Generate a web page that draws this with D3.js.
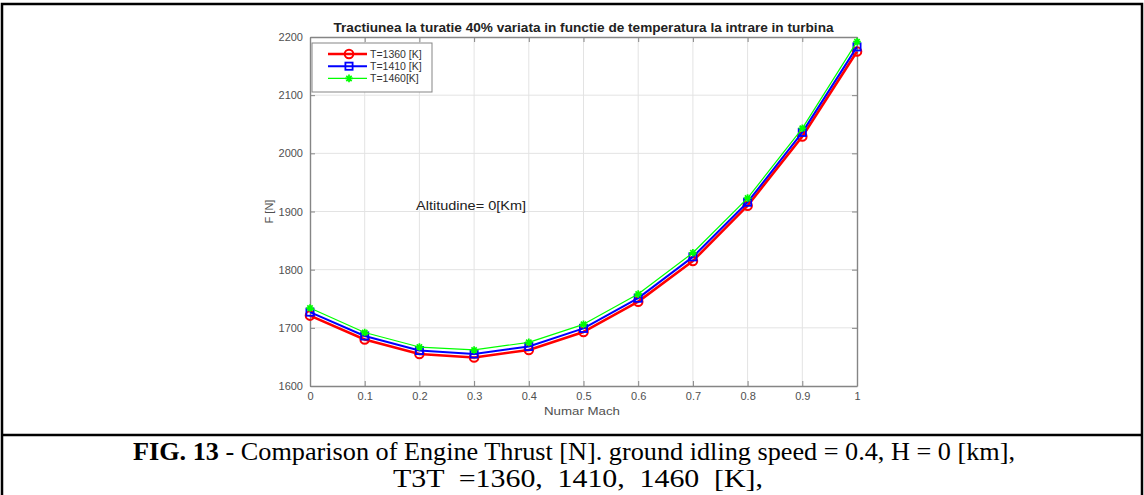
<!DOCTYPE html>
<head>
    <script src="https://cdn.jsdelivr.net/npm/d3@7"></script>
    <style>
        body { margin: 0; background: #fff; }
        svg { display: block; }
        .tick text { font-family: "Liberation Sans", Arial, sans-serif; }
    </style>
</head>
<html>
<body>
<svg width="1144" height="495"></svg>
<script>
    // data
    const mach = [0, 0.1, 0.2, 0.3, 0.4, 0.5, 0.6, 0.7, 0.8, 0.9, 1];
    const t1360 = [1721, 1680, 1655, 1649, 1662, 1693, 1745, 1815, 1910, 2029, 2175];
    const t1410 = [1727, 1686, 1661, 1655, 1668, 1699, 1751, 1822, 1916, 2036, 2183];
    const t1460 = [1734, 1692, 1667, 1662, 1675, 1706, 1758, 1829, 1923, 2043, 2192];
    const legendNames = ["T=1360 [K]", "T=1410 [K]", "T=1460[K]"];
    const xTicks = [0, 0.1, 0.2, 0.3, 0.4, 0.5, 0.6, 0.7, 0.8, 0.9, 1];
    const yTicks = [1600, 1700, 1800, 1900, 2000, 2100, 2200];

    const series = [
        {name: legendNames[0], values: t1360, color: "#ff0000", width: 2.6, marker: "circle"},
        {name: legendNames[1], values: t1410, color: "#0000ff", width: 2, marker: "square"},
        {name: legendNames[2], values: t1460, color: "#00ff00", width: 1.2, marker: "star"}
    ];

    const svg = d3.select("svg");
    const pLeft = 310, pRight = 857, pTop = 37, pBottom = 386;
    const sans = "'Liberation Sans', Arial, sans-serif";
    const serif = "'Liberation Serif', 'Times New Roman', serif";

    const x = d3.scaleLinear().domain([0, 1]).range([pLeft, pRight]);
    const y = d3.scaleLinear().domain([1600, 2200]).range([pBottom, pTop]);

    // outer frame of the figure
    svg.append("rect")
        .attr("x", 2).attr("y", 4).attr("width", 1140).attr("height", 500)
        .attr("fill", "none").attr("stroke", "#000").attr("stroke-width", 2.5);
    svg.append("line")
        .attr("x1", 2).attr("x2", 1142).attr("y1", 435).attr("y2", 435)
        .attr("stroke", "#000").attr("stroke-width", 2.5);

    // grid
    svg.append("g").selectAll("line").data(xTicks.slice(1, -1)).enter().append("line")
        .attr("x1", d => x(d)).attr("x2", d => x(d))
        .attr("y1", pTop).attr("y2", pBottom)
        .attr("stroke", "#e3e3e3").attr("stroke-width", 1);
    svg.append("g").selectAll("line").data(yTicks.slice(1, -1)).enter().append("line")
        .attr("x1", pLeft).attr("x2", pRight)
        .attr("y1", d => y(d)).attr("y2", d => y(d))
        .attr("stroke", "#e3e3e3").attr("stroke-width", 1);

    // axes
    const axisColor = "#858585";
    const xAxis = svg.append("g").attr("transform", "translate(0," + pBottom + ")")
        .call(d3.axisBottom(x).tickValues(xTicks).tickFormat(d3.format("")).tickSizeInner(-5).tickSizeOuter(0).tickPadding(6));
    const xAxisTop = svg.append("g").attr("transform", "translate(0," + pTop + ")")
        .call(d3.axisTop(x).tickValues(xTicks).tickFormat("").tickSizeInner(-5).tickSizeOuter(0));
    const yAxis = svg.append("g").attr("transform", "translate(" + pLeft + ",0)")
        .call(d3.axisLeft(y).tickValues(yTicks).tickFormat(d3.format("d")).tickSizeInner(-5).tickSizeOuter(0).tickPadding(7));
    const yAxisRight = svg.append("g").attr("transform", "translate(" + pRight + ",0)")
        .call(d3.axisRight(y).tickValues(yTicks).tickFormat("").tickSizeInner(-5).tickSizeOuter(0));

    [xAxis, xAxisTop, yAxis, yAxisRight].forEach(g => {
        g.select(".domain").attr("stroke", axisColor).attr("stroke-width", 1.4);
        g.selectAll(".tick line").attr("stroke", axisColor);
        g.selectAll(".tick text").attr("fill", "#505050").attr("font-size", 11);
    });

    // lines and markers
    const line = d3.line().x((d, i) => x(mach[i])).y(d => y(d));

    function drawMarker(g, type, color) {
        if (type === "circle") {
            g.append("circle").attr("r", 4.3).attr("fill", "none")
                .attr("stroke", color).attr("stroke-width", 2);
        } else if (type === "square") {
            g.append("rect").attr("x", -3.6).attr("y", -3.6).attr("width", 7.2).attr("height", 7.2)
                .attr("fill", "none").attr("stroke", color).attr("stroke-width", 1.8);
        } else {
            const s = 3.8;
            g.append("path")
                .attr("d", `M${-s},0H${s}M0,${-s}V${s}M${-s*0.7},${-s*0.7}L${s*0.7},${s*0.7}M${-s*0.7},${s*0.7}L${s*0.7},${-s*0.7}`)
                .attr("stroke", color).attr("stroke-width", 1.7);
        }
    }

    series.forEach(s => {
        svg.append("path").datum(s.values)
            .attr("d", line)
            .attr("fill", "none")
            .attr("stroke", s.color)
            .attr("stroke-width", s.width)
            .attr("stroke-linejoin", "round");
        svg.append("g").selectAll("g").data(s.values).enter().append("g")
            .attr("transform", (d, i) => "translate(" + x(mach[i]) + "," + y(d) + ")")
            .each(function() { drawMarker(d3.select(this), s.marker, s.color); });
    });

    // legend
    const lg = svg.append("g").attr("transform", "translate(312,43)");
    lg.append("rect").attr("width", 120).attr("height", 49)
        .attr("fill", "#fff").attr("stroke", "#858585").attr("stroke-width", 1);
    series.forEach((s, i) => {
        const ly = 11 + i * 12.2;
        lg.append("line").attr("x1", 16).attr("x2", 55).attr("y1", ly).attr("y2", ly)
            .attr("stroke", s.color).attr("stroke-width", s.width);
        const m = lg.append("g").attr("transform", "translate(37," + ly + ")");
        drawMarker(m, s.marker, s.color);
        lg.append("text").attr("x", 58).attr("y", ly + 3.8)
            .attr("font-family", sans).attr("font-size", 10.5)
            .attr("fill", "#333").text(s.name);
    });

    // titles and labels
    svg.append("text").attr("x", (pLeft + pRight) / 2).attr("y", 32)
        .attr("text-anchor", "middle").attr("font-family", sans)
        .attr("font-weight", "bold").attr("font-size", 12).attr("fill", "#222")
        .attr("textLength", 500).attr("lengthAdjust", "spacingAndGlyphs")
        .text("Tractiunea la turatie 40% variata in functie de temperatura la intrare in turbina");
    svg.append("text").attr("x", 582).attr("y", 415)
        .attr("text-anchor", "middle").attr("font-family", sans)
        .attr("font-size", 11.5).attr("fill", "#505050")
        .attr("textLength", 76).attr("lengthAdjust", "spacingAndGlyphs")
        .text("Numar Mach");
    svg.append("text").attr("transform", "translate(273," + (pTop + pBottom) / 2 + ") rotate(-90)")
        .attr("text-anchor", "middle").attr("font-family", sans)
        .attr("font-size", 11).attr("fill", "#505050").text("F [N]");
    svg.append("text").attr("x", 416).attr("y", 210)
        .attr("font-family", sans)
        .attr("font-size", 12.5).attr("fill", "#222")
        .attr("textLength", 110).attr("lengthAdjust", "spacingAndGlyphs")
        .text("Altitudine= 0[Km]");

    // caption
    const cap = svg.append("text").attr("x", 574).attr("y", 460)
        .attr("text-anchor", "middle").attr("font-family", serif)
        .attr("font-size", 25).attr("fill", "#000")
        .attr("textLength", 882).attr("lengthAdjust", "spacingAndGlyphs");
    cap.append("tspan").attr("font-weight", "bold").text("FIG. 13");
    cap.append("tspan").text(" - Comparison of Engine Thrust [N]. ground idling speed = 0.4, H = 0 [km],");
    svg.append("text").attr("x", 578).attr("y", 487)
        .attr("text-anchor", "middle").attr("font-family", serif)
        .attr("font-size", 25).attr("fill", "#000")
        .attr("word-spacing", 6)
        .attr("textLength", 370).attr("lengthAdjust", "spacingAndGlyphs")
        .text("T3T =1360, 1410, 1460 [K],");
</script>
</body>
</html>
